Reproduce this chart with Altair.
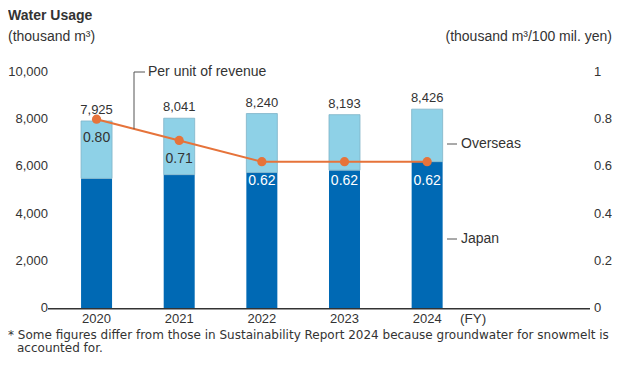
import altair as alt
import pandas as pd

# ---- data ----
years = [2020, 2021, 2022, 2023, 2024]
japan = [5490, 5650, 5740, 5840, 6200]
total = [7925, 8041, 8240, 8193, 8426]
per_unit = [0.80, 0.71, 0.62, 0.62, 0.62]

left_ticks = [0, 2000, 4000, 6000, 8000, 10000]
right_ticks = [0, 0.2, 0.4, 0.6, 0.8, 1.0]

df = pd.DataFrame({"year": years, "japan": japan, "total": total, "per_unit": per_unit})
df["overseas"] = df["total"] - df["japan"]

DARK = "#0069B4"
LIGHT = "#8ED1E7"
ORANGE = "#E6733A"
TXT = "#333333"
FONT = "Liberation Sans"

W, H = 542, 236

xs = alt.Scale(domain=[2019.473, 2025.91], nice=False, zero=False)
X = alt.X("year:Q", scale=xs, title=None, axis=None)
ysl = alt.Scale(domain=[0, 10000], nice=False)
ysr = alt.Scale(domain=[0, 1], nice=False)

base = alt.Chart(df)

jp_bar = base.mark_bar(color=DARK, width=31).encode(
    x=X, y=alt.Y("japan:Q", scale=ysl, axis=None))
ov_bar = base.mark_bar(color=LIGHT, width=31, stroke="#7FB3C8", strokeWidth=0.8).encode(
    x=X, y=alt.Y("japan:Q", scale=ysl, axis=None), y2="total:Q")
tot_txt = base.mark_text(baseline="bottom", dy=-4, fontSize=13, color=TXT, font=FONT).encode(
    x=X, y=alt.Y("total:Q", scale=ysl, axis=None), text=alt.Text("total:Q", format=",d"))
year_lab = base.mark_text(baseline="middle", fontSize=13, color=TXT, font=FONT).encode(
    x=X, y=alt.value(H + 11), text=alt.Text("year:Q", format="d"))
left_lab = alt.Chart(pd.DataFrame({"v": left_ticks})).mark_text(
    align="right", baseline="middle", fontSize=13, color=TXT, font=FONT).encode(
    x=alt.value(0), y=alt.Y("v:Q", scale=ysl, axis=None), text=alt.Text("v:Q", format=",d"))
left = alt.layer(jp_bar, ov_bar, tot_txt, year_lab, left_lab)

line = base.mark_line(color=ORANGE, strokeWidth=2).encode(
    x=X, y=alt.Y("per_unit:Q", scale=ysr, axis=None))
pts = base.mark_circle(color=ORANGE, size=85, opacity=1).encode(
    x=X, y=alt.Y("per_unit:Q", scale=ysr, axis=None))
pu_txt = base.mark_text(baseline="middle", dy=19, fontSize=14, font=FONT).encode(
    x=X, y=alt.Y("per_unit:Q", scale=ysr, axis=None),
    text=alt.Text("per_unit:Q", format=".2f"),
    color=alt.condition(alt.datum.year >= 2022, alt.value("white"), alt.value(TXT)))
right_lab = alt.Chart(pd.DataFrame({"v": right_ticks})).mark_text(
    align="left", baseline="middle", fontSize=13, color=TXT, font=FONT).encode(
    x=alt.value(W + 4), y=alt.Y("v:Q", scale=ysr, axis=None), text=alt.Text("v:Q", format=".1~f"))
right = alt.layer(line, pts, pu_txt, right_lab)

one = alt.Data(values=[{"a": 1}])


def label(txt, x, y, size=14, align="left", baseline="middle", bold=False, font=FONT):
    return alt.Chart(one).mark_text(align=align, baseline=baseline, fontSize=size, font=font,
                                    color=TXT, fontWeight="bold" if bold else "normal").encode(
        x=alt.value(x), y=alt.value(y), text=alt.value(txt))


def hrule(x1, x2, y, color="#555555", width=1.0):
    return alt.Chart(one).mark_rule(color=color, strokeWidth=width).encode(
        x=alt.value(x1), x2=alt.value(x2), y=alt.value(y))


def vrule(x, y1, y2):
    return alt.Chart(one).mark_rule(color="#555555", strokeWidth=1).encode(
        x=alt.value(x), y=alt.value(y1), y2=alt.value(y2))


annots = [
    hrule(0, W, H + 0.75, color=TXT, width=1.5),
    label("Water Usage", -40, -52, size=14, baseline="alphabetic", bold=True),
    label("(thousand m³)", -40, -31, baseline="alphabetic"),
    label("(thousand m³/100 mil. yen)", 564, -31, align="right", baseline="alphabetic"),
    hrule(86, 97, 0),
    vrule(86, 0, 57),
    label("Per unit of revenue", 100, 0),
    hrule(399, 409, 72),
    label("Overseas", 413, 72),
    hrule(399, 409, 167),
    label("Japan", 413, 167),
    label("(FY)", 412, H + 11, size=13.5),
    label("* Some figures differ from those in Sustainability Report 2024 because groundwater for snowmelt is",
          -40, 267, size=12, baseline="alphabetic", font="DejaVu Sans"),
    label("accounted for.", -31, 279.5, size=12, baseline="alphabetic", font="DejaVu Sans"),
]

chart = alt.layer(left, right, *annots).resolve_scale(y="independent").properties(
    width=W, height=H,
    autosize=alt.AutoSizeParams(type="none"),
    padding={"left": 40, "top": 64, "right": 22, "bottom": 45},
    view=alt.ViewBackground(stroke="transparent", strokeWidth=0, strokeOpacity=0),
).configure_view(stroke="transparent", strokeWidth=0, strokeOpacity=0).configure(font=FONT).configure_axis(
    grid=False, domain=False, ticks=False)

chart.save("out.html", embed_options={"renderer": "svg", "actions": False})
